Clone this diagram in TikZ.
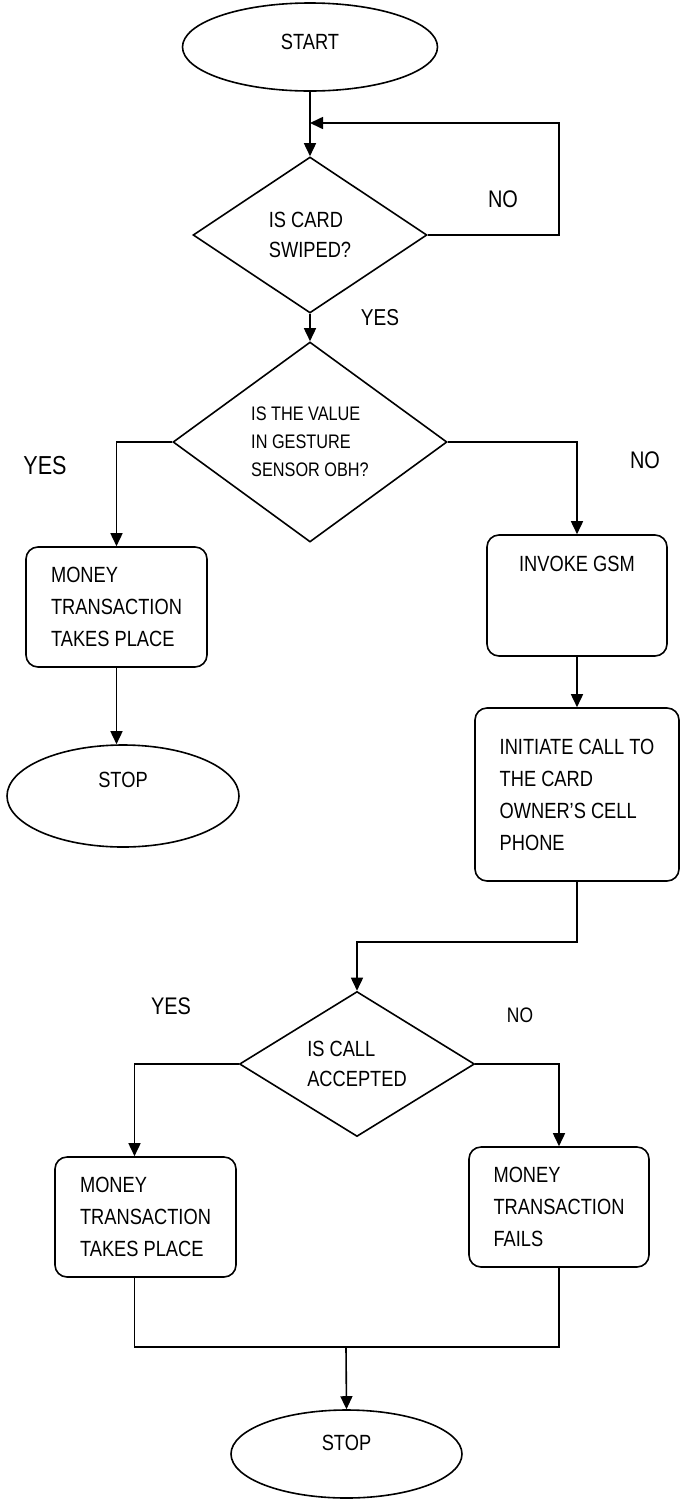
\documentclass[tikz,border=0pt]{standalone}
\usepackage{fontspec}
\setmainfont{Liberation Sans}[FakeStretch=0.83]
\usetikzlibrary{shapes.geometric,arrows.meta}

\begin{document}
\begin{tikzpicture}[x=0.5pt,y=-0.5pt,line width=0.8pt,>={Triangle[length=6.5pt,width=6pt]},
    term/.style={ellipse,draw,inner sep=0pt,font=\fontsize{11}{16}\selectfont},
    decide/.style={diamond,draw,inner sep=0pt,align=left,font=\fontsize{11}{15}\selectfont},
    procbox/.style={rectangle,rounded corners=6pt,draw,inner sep=0pt,align=left,font=\fontsize{11}{16}\selectfont},
    answer/.style={inner sep=0pt,font=\fontsize{12}{14}\selectfont}]
    \useasboundingbox (0,0) rectangle (681,1500);
    \node[term,minimum width=127.5pt,minimum height=44pt,text depth=5pt] (start) at (310,47) {START};
    \node[decide,minimum width=117pt,minimum height=78pt,aspect=1.5] (swipe) at (310,235) {IS CARD\\SWIPED?};
    \node[decide,minimum width=137pt,minimum height=100pt,aspect=1.37,font=\fontsize{9.8}{14}\selectfont] (gesture) at (310,442) {IS THE VALUE\\IN GESTURE\\SENSOR OBH?};
    \node[procbox,minimum width=90.5pt,minimum height=60pt] (pay) at (116.5,607) {MONEY\\TRANSACTION\\TAKES PLACE};
    \node[term,minimum width=116pt,minimum height=51pt,text depth=16pt] (stopa) at (123,796) {STOP};
    \node[procbox,minimum width=90pt,minimum height=59.5pt,inner ysep=10pt,text height=8pt,text depth=32.5pt] (gsm) at (577,595.5) {INVOKE GSM};
    \node[procbox,minimum width=102pt,minimum height=86.5pt] (call) at (577,794.5) {INITIATE CALL TO\\THE CARD\\OWNER’S CELL\\PHONE};
    \node[decide,minimum width=117.5pt,minimum height=72.5pt,aspect=1.6] (accept) at (357,1064) {IS CALL\\ACCEPTED};
    \node[procbox,minimum width=90.5pt,minimum height=60pt] (paytwo) at (145.5,1217) {MONEY\\TRANSACTION\\TAKES PLACE};
    \node[procbox,minimum width=90pt,minimum height=60pt] (fail) at (559,1207) {MONEY\\TRANSACTION\\FAILS};
    \node[term,minimum width=115.5pt,minimum height=44pt,text depth=11pt] (stopb) at (346.5,1454) {STOP};
    \node[answer] (noa) at (503,199) {NO};
    \node[answer,font=\fontsize{11.5}{14}\selectfont] (yesa) at (380,318) {YES};
    \node[answer,font=\fontsize{13}{15}\selectfont] (yesb) at (45,466) {YES};
    \node[answer] (nob) at (645,460) {NO};
    \node[answer] (yesc) at (171,1006) {YES};
    \node[answer,font=\fontsize{10.5}{12}\selectfont] (noc) at (520,1015) {NO};
    \coordinate (looptop) at (559,123);
    \coordinate (loopin) at (310,123);
    \coordinate (callbend) at (357,942);
    \coordinate (merge) at (346,1347);
    \draw[->] (start.south) -- (swipe.north);
    \draw[->] (swipe.east) -| (looptop) -- (loopin);
    \draw[->] (swipe.south) -- (gesture.north);
    \draw[->] (gesture.west) -| (pay.north);
    \draw[->] (gesture.east) -| (gsm.north);
    \draw[->] (pay.south) -- (pay.south |- stopa.north);
    \draw[->] (gsm.south) -- (call.north);
    \draw[->] (call.south) |- (callbend) -- (accept.north);
    \draw[->] (accept.west) -| ([xshift=-5.5pt]paytwo.north);
    \draw[->] (accept.east) -| (fail.north);
    \draw ([xshift=-5.5pt]paytwo.south) |- (merge) -| (fail.south);
    \draw[->] (merge) -- (stopb.north);
\end{tikzpicture}
\end{document}
